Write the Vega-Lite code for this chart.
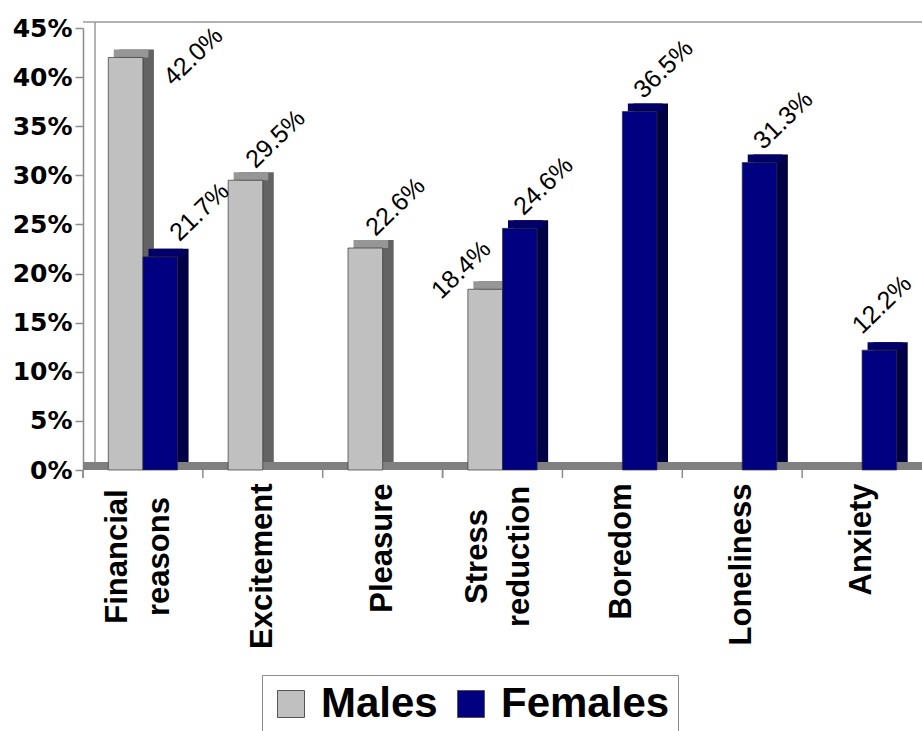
{
  "$schema": "https://vega.github.io/schema/vega-lite/v6.json",
  "width": 839,
  "height": 442,
  "autosize": {"type": "none"},
  "padding": {"left": 83, "top": 28, "right": 0, "bottom": 261},
  "background": "white",
  "config": {"view": {"stroke": null}},
  "data": {
    "values": [
      {"category": "Financial reasons", "sex": "Males", "value": 0.420},
      {"category": "Financial reasons", "sex": "Females", "value": 0.217},
      {"category": "Excitement", "sex": "Males", "value": 0.295},
      {"category": "Pleasure", "sex": "Males", "value": 0.226},
      {"category": "Stress reduction", "sex": "Males", "value": 0.184},
      {"category": "Stress reduction", "sex": "Females", "value": 0.246},
      {"category": "Boredom", "sex": "Females", "value": 0.365},
      {"category": "Loneliness", "sex": "Females", "value": 0.313},
      {"category": "Anxiety", "sex": "Females", "value": 0.122}
    ]
  },
  "encoding": {
    "y": {
      "field": "value",
      "type": "quantitative",
      "scale": {"domain": [0, 0.45], "nice": false},
      "axis": {
        "title": null,
        "grid": false,
        "values": [0, 0.05, 0.1, 0.15, 0.2, 0.25, 0.3, 0.35, 0.4, 0.45],
        "format": ".0%",
        "domainColor": "#8c8c8c",
        "domainWidth": 1.5,
        "tickColor": "#8c8c8c",
        "tickSize": 8,
        "tickWidth": 1.5,
        "labelPadding": 3,
        "labelFont": "DejaVu Sans",
        "labelFontWeight": "bold",
        "labelFontSize": 25,
        "labelColor": "black"
      }
    }
  },
  "resolve": {"scale": {"xOffset": "independent"}},
  "layer": [
    {
      "transform": [{"filter": "datum.category == 'Financial reasons' && datum.sex == 'Males'"}],
      "mark": {"type": "rule", "color": "#9a9a9a", "strokeWidth": 1.5, "xOffset": 12, "yOffset": -6, "y2Offset": -8},
      "encoding": {
        "x": {"field": "category", "type": "nominal", "bandPosition": 0},
        "y": {"datum": 0.45},
        "y2": {"datum": 0}
      }
    },
    {
      "transform": [{"filter": "datum.category == 'Financial reasons' && datum.sex == 'Males'"}],
      "mark": {"type": "rule", "color": "#9a9a9a", "strokeWidth": 1.5, "xOffset": 12, "yOffset": -6},
      "encoding": {
        "y": {"datum": 0.45}
      }
    },
    {
      "transform": [{"filter": "datum.category == 'Financial reasons' && datum.sex == 'Males'"}],
      "mark": {"type": "rule", "color": "#808080", "strokeWidth": 8, "yOffset": -4},
      "encoding": {
        "y": {"datum": 0}
      }
    },
    {
      "mark": {"type": "rule", "color": "#8c8c8c", "strokeWidth": 1.5, "y2Offset": 8},
      "encoding": {
        "x": {"field": "category", "type": "nominal", "bandPosition": 0},
        "y": {"datum": 0},
        "y2": {"datum": 0}
      }
    },
    {
      "mark": {"type": "bar", "yOffset": -8, "y2Offset": -8},
      "encoding": {
        "x": {"field": "category", "type": "nominal", "sort": null},
        "xOffset": {
          "field": "sex",
          "type": "nominal",
          "scale": {"domain": ["Males", "Females"], "paddingOuter": 0.73, "paddingInner": 0, "range": [11, 130.86]}
        },
        "color": {
          "condition": {"test": "datum.sex == 'Males'", "value": "#636363"},
          "value": "#000045"
        }
      }
    },
    {
      "mark": {"type": "bar", "yOffset": -8, "y2Offset": 0},
      "encoding": {
        "x": {"field": "category", "type": "nominal", "sort": null},
        "xOffset": {
          "field": "sex",
          "type": "nominal",
          "scale": {"domain": ["Males", "Females"], "paddingOuter": 0.73, "paddingInner": 0, "range": [5.5, 125.36]}
        },
        "y2": {"field": "value"},
        "color": {
          "condition": {"test": "datum.sex == 'Males'", "value": "#969696"},
          "value": "#000066"
        }
      }
    },
    {
      "mark": {"type": "bar", "stroke": "#333333", "strokeWidth": 0.7},
      "encoding": {
        "x": {
          "field": "category",
          "type": "nominal",
          "sort": null,
          "scale": {
            "domain": ["Financial reasons", "Excitement", "Pleasure", "Stress reduction", "Boredom", "Loneliness", "Anxiety"],
            "paddingInner": 0,
            "paddingOuter": 0
          },
          "axis": {
            "title": null,
            "domain": false,
            "ticks": false,
            "labelAngle": -90,
            "labelAlign": {"condition": {"test": "indexof(datum.value, ' ') > 0", "value": "center"}, "value": "right"},
            "labelPadding": {"condition": {"test": "indexof(datum.value, ' ') > 0", "value": 86}, "value": 13},
            "labelOffset": {"condition": {"test": "indexof(datum.value, ' ') > 0", "value": -25}, "value": 0},
            "labelFont": "Liberation Sans",
            "labelFontWeight": "bold",
            "labelFontSize": 31,
            "labelColor": "black",
            "labelLineHeight": 42,
            "labelLimit": 400,
            "labelExpr": "split(datum.label, ' ')"
          }
        },
        "xOffset": {
          "field": "sex",
          "type": "nominal",
          "scale": {"domain": ["Males", "Females"], "paddingOuter": 0.73, "paddingInner": 0}
        },
        "color": {
          "field": "sex",
          "type": "nominal",
          "scale": {"domain": ["Males", "Females"], "range": ["#c0c0c0", "#000080"]},
          "legend": {
            "title": null,
            "orient": "none",
            "legendX": 179,
            "legendY": 647,
            "direction": "horizontal",
            "symbolType": "square",
            "symbolSize": 729,
            "symbolStrokeWidth": 1,
            "symbolStrokeColor": "#555555",
            "labelFont": "Liberation Sans",
            "labelFontSize": 42,
            "labelFontWeight": "bold",
            "labelColor": "black",
            "labelOffset": 9,
            "labelLimit": 400,
            "columnPadding": 12,
            "padding": 8,
            "strokeColor": "#8c8c8c",
            "fillColor": "white"
          }
        }
      }
    },
    {
      "mark": {
        "type": "text",
        "angle": 316,
        "align": "left",
        "baseline": "alphabetic",
        "dx": {"expr": "datum.category == 'Financial reasons' ? 19 : (datum.category == 'Stress reduction' && datum.sex == 'Males') ? -34 : datum.category == 'Anxiety' ? -7 : datum.sex == 'Males' ? 20 : 6"},
        "dy": {"expr": "(datum.category == 'Financial reasons' && datum.sex == 'Males') ? 59 : datum.category == 'Financial reasons' ? -2 : (datum.category == 'Stress reduction' && datum.sex == 'Males') ? -18 : datum.category == 'Anxiety' ? -28 : datum.sex == 'Males' ? 4 : -11"},
        "font": "Liberation Sans",
        "fontSize": 25,
        "color": "black"
      },
      "encoding": {
        "x": {"field": "category", "type": "nominal", "sort": null},
        "xOffset": {
          "field": "sex",
          "type": "nominal",
          "scale": {"domain": ["Males", "Females"], "paddingOuter": 0.73, "paddingInner": 0}
        },
        "text": {"field": "value", "type": "quantitative", "format": ".1%"}
      }
    }
  ]
}
